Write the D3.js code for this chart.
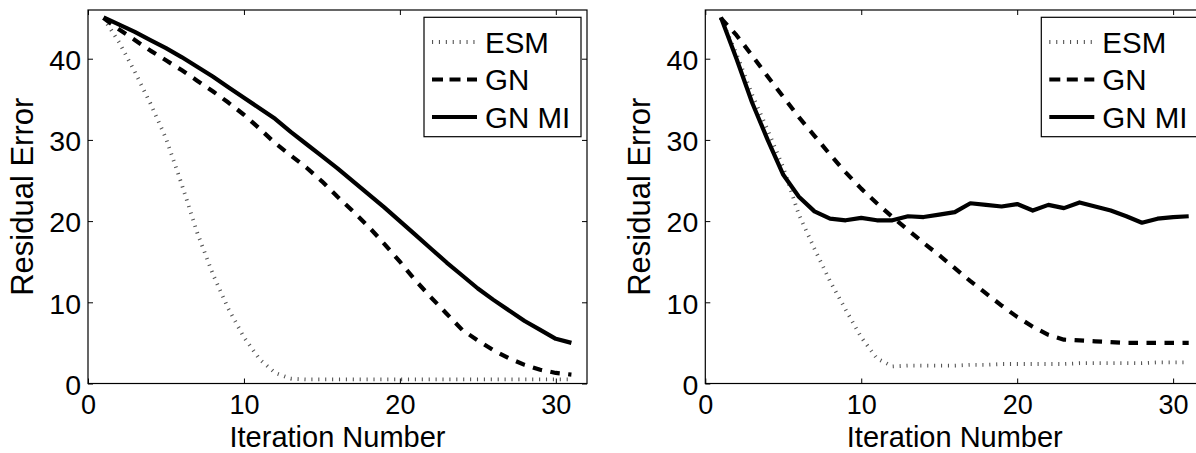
<!DOCTYPE html>
<html>
<head>
<meta charset="utf-8">
<script src="https://cdn.jsdelivr.net/npm/d3@7"></script>
<style>
  html, body { margin: 0; padding: 0; background: #fff; }
  svg { display: block; }
  text { font-family: "Liberation Sans", Arial, Helvetica, sans-serif; fill: #000; }
</style>
</head>
<body>
<svg id="fig" width="1196" height="453"></svg>
<script>
// Iteration index shared by both panels
const iterations = [1, 2, 3, 4, 5, 6, 7, 8, 9, 10, 11, 12, 13, 14, 15, 16,
                    17, 18, 19, 20, 21, 22, 23, 24, 25, 26, 27, 28, 29, 30, 31];

// Left panel: residual error per iteration
const esmLeft  = [45.0, 42.0, 38.4, 34.5, 30.2, 24.6, 18.6, 13.5, 9.2, 5.7, 3.0, 1.3, 0.6, 0.5, 0.5, 0.5,
                  0.5, 0.5, 0.5, 0.5, 0.5, 0.5, 0.5, 0.5, 0.5, 0.5, 0.5, 0.5, 0.5, 0.5, 0.5];
const gnLeft   = [45.0, 43.6, 42.3, 41.0, 39.8, 38.6, 37.3, 36.0, 34.6, 33.1, 31.4, 29.6, 28.1, 26.6, 24.9, 23.0,
                  21.2, 19.3, 17.2, 15.0, 12.7, 10.6, 8.6, 6.6, 5.3, 4.1, 3.1, 2.3, 1.7, 1.3, 1.1];
const gnmiLeft = [45.1, 44.2, 43.3, 42.3, 41.3, 40.2, 39.0, 37.8, 36.5, 35.2, 33.9, 32.6, 31.0, 29.5, 28.0, 26.5,
                  24.9, 23.3, 21.7, 20.0, 18.3, 16.6, 14.9, 13.3, 11.7, 10.3, 9.0, 7.7, 6.6, 5.5, 5.0];

// Right panel: residual error per iteration
const esmRight  = [45.0, 40.6, 35.6, 31.2, 26.6, 20.8, 16.6, 12.6, 9.1, 5.7, 3.1, 2.1, 2.2, 2.2, 2.2, 2.2,
                   2.3, 2.3, 2.4, 2.4, 2.4, 2.4, 2.4, 2.5, 2.5, 2.5, 2.5, 2.5, 2.6, 2.6, 2.6];
const gnRight   = [45.0, 42.9, 40.4, 37.8, 35.3, 32.8, 30.5, 28.2, 26.0, 24.0, 22.2, 20.5, 18.9, 17.3, 15.8, 14.2,
                   12.6, 11.1, 9.6, 8.2, 7.0, 6.0, 5.4, 5.3, 5.2, 5.1, 5.0, 5.0, 5.0, 5.0, 5.0];
const gnmiRight = [45.1, 40.0, 34.6, 30.0, 25.7, 23.0, 21.2, 20.3, 20.1, 20.4, 20.1, 20.1, 20.6, 20.5, 20.8, 21.1,
                   22.2, 22.0, 21.8, 22.1, 21.3, 22.0, 21.6, 22.3, 21.8, 21.3, 20.6, 19.8, 20.3, 20.5, 20.6];

// Axis ticks and labels
const xTicks = [0, 10, 20, 30];
const yTicks = [0, 10, 20, 30, 40];
const xLabel = "Iteration Number";
const yLabel = "Residual Error";
const seriesNames = ["ESM", "GN", "GN MI"];

// Line styles for the three methods
const styles = {
  "ESM":   { stroke: "#555", width: 3.8, dash: "1.1,5.8" },
  "GN":    { stroke: "#000", width: 4.2, dash: "9.5,8.5" },
  "GN MI": { stroke: "#000", width: 4.2, dash: null }
};

const svg = d3.select("#fig");

function drawPanel(left, series) {
  const width = 499, top = 10, bottom = 383.5;
  const x = d3.scaleLinear().domain([0, 32]).range([left, left + width]);
  const y = d3.scaleLinear().domain([0, 46]).range([bottom, top]);
  const g = svg.append("g");

  // inward ticks on all four sides
  const bottomAxis = g.append("g").attr("transform", `translate(0,${bottom})`)
    .call(d3.axisBottom(x).tickValues(xTicks).tickSize(-5).tickPadding(11.5).tickSizeOuter(0));
  const topAxis = g.append("g").attr("transform", `translate(0,${top})`)
    .call(d3.axisTop(x).tickValues(xTicks).tickSize(-5).tickFormat("").tickSizeOuter(0));
  const leftAxis = g.append("g").attr("transform", `translate(${left},0)`)
    .call(d3.axisLeft(y).tickValues(yTicks).tickSize(-5).tickPadding(7).tickSizeOuter(0));
  const rightAxis = g.append("g").attr("transform", `translate(${left + width},0)`)
    .call(d3.axisRight(y).tickValues(yTicks).tickSize(-5).tickFormat("").tickSizeOuter(0));

  [bottomAxis, topAxis, leftAxis, rightAxis].forEach(a => {
    a.select(".domain").remove();
    a.selectAll("line").attr("stroke", "#000").attr("stroke-width", 1);
    a.selectAll("text").attr("fill", "#000")
      .attr("font-family", '"Liberation Sans", Arial, sans-serif');
  });
  leftAxis.selectAll("text").attr("font-size", 28.5).attr("dy", "0.38em");
  bottomAxis.selectAll("text").attr("font-size", 27);

  // frame
  g.append("rect")
    .attr("x", left).attr("y", top).attr("width", width).attr("height", bottom - top)
    .attr("fill", "none").attr("stroke", "#000").attr("stroke-width", 1.2);

  // series
  const line = d3.line().x((d, i) => x(iterations[i])).y(d => y(d));
  seriesNames.forEach(name => {
    const s = styles[name];
    g.append("path")
      .datum(series[name])
      .attr("d", line)
      .attr("fill", "none")
      .attr("stroke", s.stroke)
      .attr("stroke-width", s.width)
      .attr("stroke-dasharray", s.dash)
      .attr("stroke-linejoin", "round");
  });

  // axis labels
  g.append("text")
    .attr("x", (x.range()[0] + x.range()[1]) / 2).attr("y", 446.5)
    .attr("text-anchor", "middle").attr("font-size", 29)
    .text(xLabel);
  g.append("text")
    .attr("transform", `translate(${left - 55},${(top + bottom) / 2}) rotate(-90)`)
    .attr("text-anchor", "middle").attr("font-size", 31)
    .text(yLabel);

  // legend
  const lx = left + 336, ly = 17.3;
  const lg = g.append("g").attr("transform", `translate(${lx},${ly})`);
  lg.append("rect").attr("width", 157).attr("height", 119.4)
    .attr("fill", "#fff").attr("stroke", "#000").attr("stroke-width", 1.2);
  seriesNames.forEach((name, i) => {
    const s = styles[name];
    const cy = 24.7 + i * 37.5;
    lg.append("line")
      .attr("x1", 8).attr("x2", 53).attr("y1", cy).attr("y2", cy)
      .attr("stroke", s.stroke).attr("stroke-width", s.width)
      .attr("stroke-dasharray", name === "GN" ? "11,6.5" : s.dash);
    lg.append("text")
      .attr("x", 61).attr("y", cy).attr("dy", "0.36em")
      .attr("font-size", 29.5)
      .text(name);
  });
}

drawPanel(88, { "ESM": esmLeft, "GN": gnLeft, "GN MI": gnmiLeft });
drawPanel(705.3, { "ESM": esmRight, "GN": gnRight, "GN MI": gnmiRight });
</script>
</body>
</html>
